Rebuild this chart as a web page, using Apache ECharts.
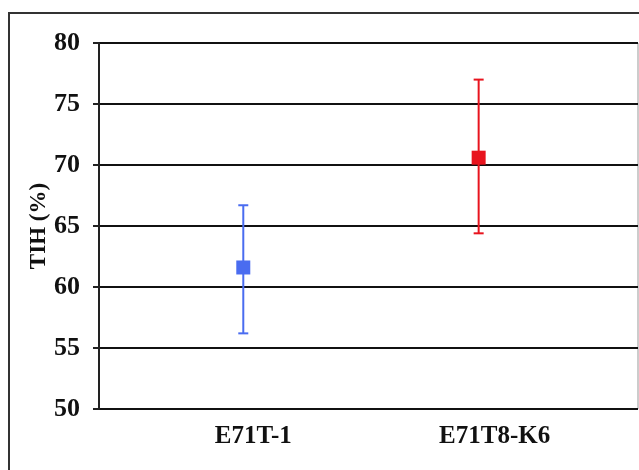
<!DOCTYPE html>
<html><head><meta charset="utf-8">
<script src="https://cdn.jsdelivr.net/npm/echarts@6/dist/echarts.min.js"></script>
<style>html,body{margin:0;padding:0;background:#fff}#c{width:639px;height:470px}</style>
</head><body><div id="c"></div>
<script>
const categories = ['E71T-1', 'E71T8-K6'];
const means = [61.6, 70.6];
const lowers = [56.2, 64.4];
const uppers = [66.7, 77.0];
const colors = ['#4a6cf0', '#e8141e'];
const yTicks = [50, 55, 60, 65, 70, 75, 80];

const FONT = '"Liberation Serif", "Times New Roman", serif';
const pos = categories.map((c, i) => i + 1);

const chart = echarts.init(document.getElementById('c'), null, {renderer: 'canvas'});
chart.setOption({
  animation: false,
  backgroundColor: '#fff',
  graphic: [{
    type: 'rect', shape: {x: 9, y: 13, width: 640, height: 470},
    style: {fill: 'none', stroke: '#333', lineWidth: 2}, silent: true, z: 0
  }],
  grid: {left: 99, top: 43, right: 1, bottom: 61, show: true, borderColor: '#999', borderWidth: 1},
  xAxis: {
    type: 'value', min: 0.387, max: 2.677,
    axisLine: {show: false}, axisTick: {show: false}, splitLine: {show: false},
    axisLabel: {
      customValues: pos, margin: 15,
      formatter: v => (v === 1 ? '{a|' : '{b|') + categories[v - 1] + '}',
      rich: {
        a: {fontFamily: FONT, fontWeight: 'bold', fontSize: 25, color: '#111', padding: [0, 0, 0, 20]},
        b: {fontFamily: FONT, fontWeight: 'bold', fontSize: 25, color: '#111', padding: [0, 0, 0, 32]}
      }
    }
  },
  yAxis: {
    type: 'value', min: yTicks[0], max: yTicks[yTicks.length - 1], interval: 5,
    name: 'TIH (%)', nameLocation: 'middle', nameRotate: 90, nameGap: 48, nameMoveOverlap: false,
    nameTextStyle: {fontFamily: FONT, fontWeight: 'bold', fontSize: 23, color: '#111'},
    axisLine: {show: true, lineStyle: {color: '#222', width: 2}},
    axisTick: {show: true, length: 6, lineStyle: {color: '#222', width: 2}},
    splitLine: {show: true, lineStyle: {color: '#111', width: 2}},
    axisLabel: {fontFamily: FONT, fontWeight: 'bold', fontSize: 26, color: '#111', margin: 19}
  },
  series: [
    {
      type: 'custom',
      data: pos.map((p, i) => [p, lowers[i], uppers[i], i]),
      renderItem: (params, api) => {
        const x = api.value(0);
        const lo = api.coord([x, api.value(1)]);
        const hi = api.coord([x, api.value(2)]);
        const col = colors[api.value(3)];
        const half = 5;
        const st = {stroke: col, lineWidth: 2};
        return {type: 'group', children: [
          {type: 'line', shape: {x1: lo[0], y1: lo[1], x2: hi[0], y2: hi[1]}, style: st},
          {type: 'line', shape: {x1: lo[0] - half, y1: lo[1], x2: lo[0] + half, y2: lo[1]}, style: st},
          {type: 'line', shape: {x1: hi[0] - half, y1: hi[1], x2: hi[0] + half, y2: hi[1]}, style: st}
        ]};
      },
      z: 3
    },
    {
      type: 'scatter', symbol: 'rect', symbolSize: 14,
      data: pos.map((p, i) => ({value: [p, means[i]], itemStyle: {color: colors[i], opacity: 1}})),
      z: 4
    }
  ]
});
</script></body></html>
